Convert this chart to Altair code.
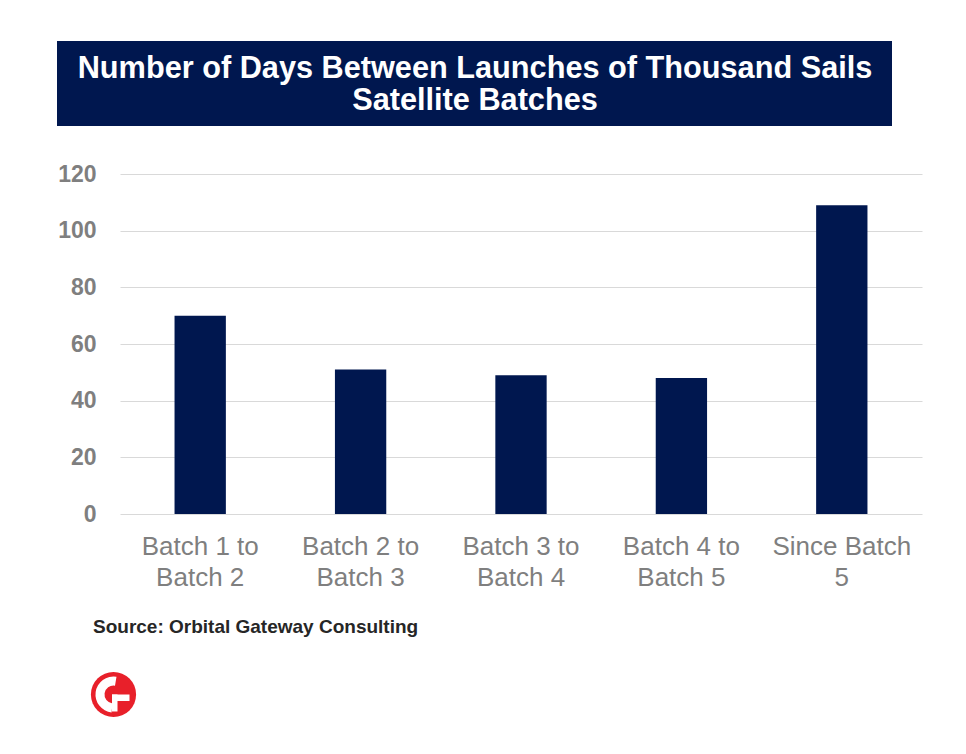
import altair as alt
import pandas as pd

categories = ["Batch 1 to Batch 2", "Batch 2 to Batch 3", "Batch 3 to Batch 4",
              "Batch 4 to Batch 5", "Since Batch 5"]
days = [70, 51, 49, 48, 109]
title_lines = ["Number of Days Between Launches of Thousand Sails", "Satellite Batches"]
source_text = "Source: Orbital Gateway Consulting"

NAVY = "#00174f"
GRAY = "#7f7f7f"
FONT = "Liberation Sans"

df = pd.DataFrame({"category": categories, "days": days})

W, H = 802, 340

label_expr = ("datum.label == 'Since Batch 5' ? ['Since Batch', '5'] : "
              "[slice(datum.label, 0, 10), slice(datum.label, 11)]")

bars = alt.Chart(df).mark_bar(color=NAVY).encode(
    x=alt.X("category:N", sort=categories,
            scale=alt.Scale(paddingInner=0.68, paddingOuter=0.34),
            axis=alt.Axis(title=None, labelAngle=0, labelFont=FONT, labelFontSize=26,
                          labelColor=GRAY, labelExpr=label_expr, labelLineHeight=31,
                          labelPadding=19, ticks=False, domain=False, labelBaseline="top")),
    y=alt.Y("days:Q", scale=alt.Scale(domain=[0, 120]),
            axis=alt.Axis(title=None, values=[0, 20, 40, 60, 80, 100, 120],
                          labelFont=FONT, labelFontSize=23, labelFontWeight="bold",
                          labelColor=GRAY, labelPadding=24, ticks=False, domain=False,
                          gridColor="#d9d9d9", gridWidth=1)),
)

one = alt.Data(values=[{}])

title_box = alt.Chart(one).mark_rect(color=NAVY).encode(
    x=alt.value(-63), x2=alt.value(772), y=alt.value(-133), y2=alt.value(-48))

title1 = alt.Chart(one).mark_text(
    text=title_lines[0], font=FONT, fontSize=30.7, fontWeight="bold", color="white",
    align="center", baseline="alphabetic").encode(x=alt.value(355), y=alt.value(-96))
title2 = alt.Chart(one).mark_text(
    text=title_lines[1], font=FONT, fontSize=30.7, fontWeight="bold", color="white",
    align="center", baseline="alphabetic").encode(x=alt.value(355), y=alt.value(-64))

source = alt.Chart(one).mark_text(
    text=source_text, font=FONT, fontSize=19, fontWeight="bold", color="#262626",
    align="left", baseline="alphabetic").encode(x=alt.value(-27), y=alt.value(459))

LX, LY = -6.5, 520.5
logo_circle = alt.Chart(one).mark_point(
    filled=True, shape="circle", color="#e8202a", opacity=1, size=2040).encode(
    x=alt.value(LX), y=alt.value(LY))
logo_arc = alt.Chart(one).mark_arc(
    color="white", theta=3.25, theta2=6.45, radius=18, radius2=9).encode(
    x=alt.value(LX), y=alt.value(LY))
logo_bar_h = alt.Chart(one).mark_rect(color="white").encode(
    x=alt.value(LX - 1.5), x2=alt.value(LX + 16), y=alt.value(LY), y2=alt.value(LY + 6.5))
logo_bar_v = alt.Chart(one).mark_rect(color="white").encode(
    x=alt.value(LX - 1.5), x2=alt.value(LX + 4), y=alt.value(LY), y2=alt.value(LY + 17))

chart = alt.layer(
    bars, title_box, title1, title2, source,
    logo_circle, logo_arc, logo_bar_h, logo_bar_v
).properties(
    width=W, height=H,
    background="white",
    autosize=alt.AutoSizeParams(type="none"),
    padding={"left": 112, "top": 166, "right": 36, "bottom": 232},
).configure_view(strokeWidth=0, stroke="transparent")

chart.save("out.html", embed_options={"renderer": "svg", "actions": False})
